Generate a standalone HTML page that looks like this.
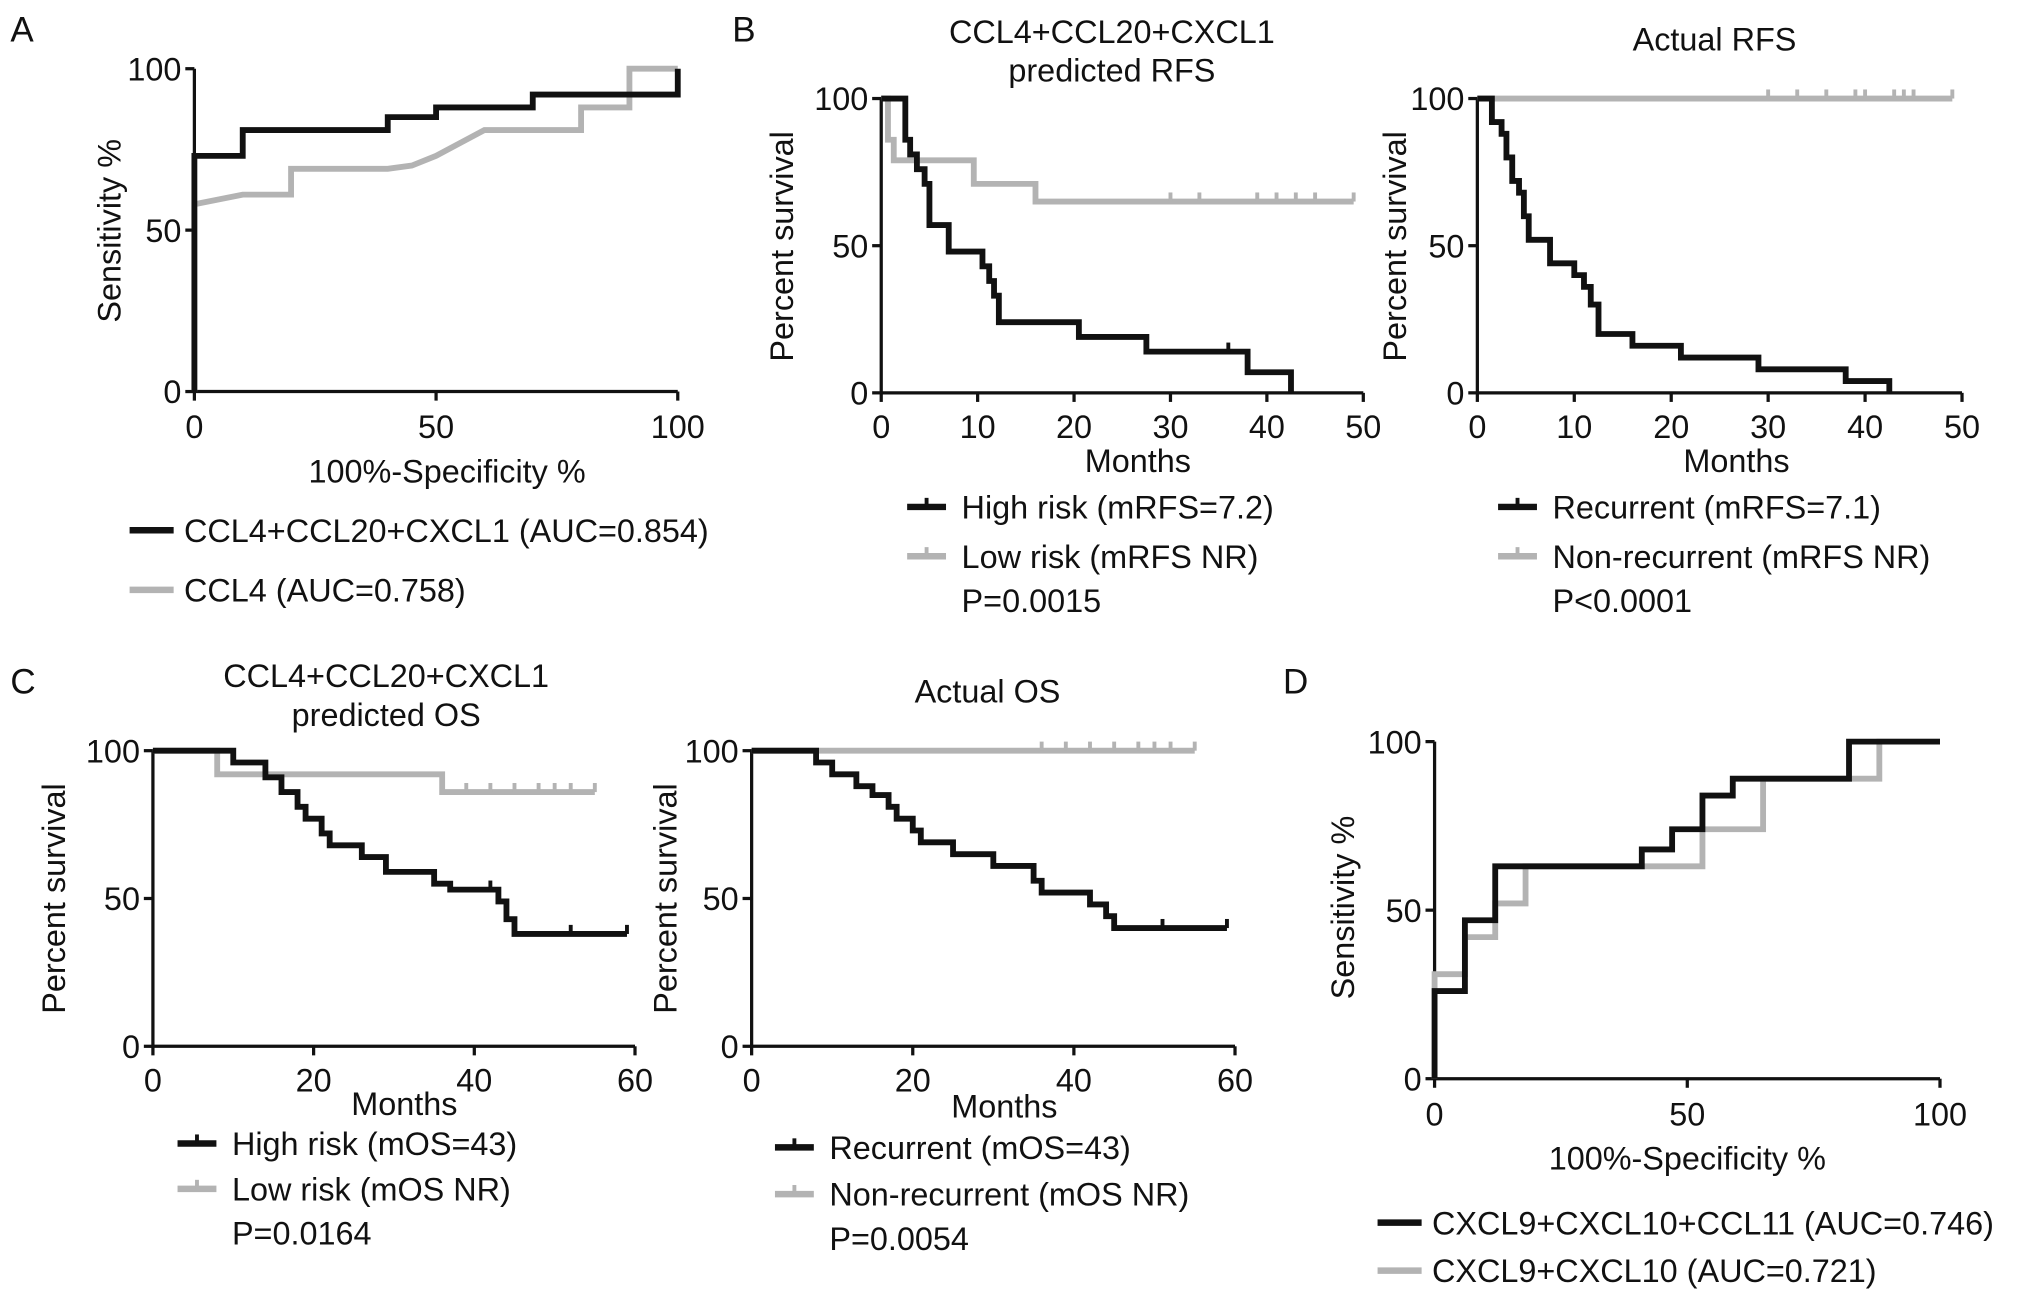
<!DOCTYPE html>
<html><head><meta charset="utf-8"><style>
html,body{margin:0;padding:0;background:#fff;}
svg{display:block;}
text{font-family:"Liberation Sans",sans-serif;fill:#111;}
</style></head><body>
<svg id="fig" width="2032" height="1303" viewBox="0 0 1568 1005" preserveAspectRatio="none" xmlns="http://www.w3.org/2000/svg">
<g font-size="27">
<text x="8" y="32">A</text>
<text x="565" y="32">B</text>
<text x="8" y="535">C</text>
<text x="990" y="535">D</text>
</g>
</svg>
<script>
// ---- Data ----
const aBlackX = [0,0,10,10,40,40,50,50,70,70,100,100];
const aBlackY = [0,73,73,81,81,85,85,88,88,92,92,100];
const aGrayX = [0,0,10,20,20,40,45,50,55,60,80,80,90,90,100];
const aGrayY = [0,58,61,61,69,69,70,73,77,81,81,88,88,100,100];
const b1BlackT = [2.5,3,3.7,4.5,5,7,10.5,11.2,11.7,12.2,20.5,27.5,38,42.5];
const b1BlackS = [86,81,76,71,57,48,43,38,33,24,19,14,7,0];
const b1BlackCens = [36];
const b1GrayT = [0.7,1.3,9.6,16];
const b1GrayS = [86,79,71,65];
const b1GrayCens = [30,33,39,41,43,45,49];
const b2BlackT = [1.5,2.5,3,3.6,4.3,4.8,5.3,7.5,10,11,11.7,12.5,16,21,29,38,42.5];
const b2BlackS = [92,88,80,72,68,60,52,44,40,36,30,20,16,12,8,4,0];
const b2GrayCens = [30,33,36,39,40,43,44,45,49];
const c1BlackT = [10,14,16,18,19,21,22,26,29,35,37,43,44,45];
const c1BlackS = [96,91,86,81,77,72,68,64,59,55,53,49,43,38];
const c1BlackCens = [42,52,59];
const c1GrayT = [8,36];
const c1GrayS = [92,86];
const c1GrayCens = [39,42,45,48,50,52,55];
const c2BlackT = [8,10,13,15,17,18,20,21,25,30,35,36,42,44,45];
const c2BlackS = [96,92,88,85,81,77,73,69,65,61,56,52,48,44,40];
const c2BlackCens = [35,51,59];
const c2GrayCens = [36,39,42,45,48,50,52,55];
const dBlackX = [0,0,6,6,12,12,41,41,47,47,53,53,59,59,82,82,100];
const dBlackY = [0,26,26,47,47,63,63,68,68,74,74,84,84,89,89,100,100];
const dGrayX = [0,0,6,6,12,12,18,18,53,53,65,65,82,82,88,88,100];
const dGrayY = [0,31,31,42,42,52,52,63,63,74,74,89,89,89,89,100,100];
const rocTicks = [0,50,100];
const rfsXTicks = [0,10,20,30,40,50];
const osXTicks = [0,20,40,60];
const survTicks = [0,50,100];

const FS = 25;
const svg = document.getElementById('fig');
const NS = 'http://www.w3.org/2000/svg';
const BLACK = '#111', GRAY = '#b3b3b3';
function el(tag, attrs, parent){const e=document.createElementNS(NS,tag);for(const k in attrs)e.setAttribute(k,attrs[k]);(parent||svg).appendChild(e);return e;}
function txt(x,y,s,size,anchor,parent,rot){const t=el('text',{x:x,y:y,'font-size':size,'text-anchor':anchor||'start'},parent);if(rot)t.setAttribute('transform','rotate(-90 '+x+' '+y+')');t.textContent=s;return t;}
function scale(d0,d1,r0,r1){return v=>r0+(v-d0)/(d1-d0)*(r1-r0);}

function axes(g, sx, sy, xt, yt, xmax, ymax, xlabOff){
  el('line',{x1:sx(0),y1:sy(0),x2:sx(xmax),y2:sy(0),stroke:BLACK,'stroke-width':2.5},g);
  el('line',{x1:sx(0),y1:sy(0),x2:sx(0),y2:sy(ymax),stroke:BLACK,'stroke-width':2.5},g);
  xt.forEach(v=>{el('line',{x1:sx(v),y1:sy(0),x2:sx(v),y2:sy(0)+7,stroke:BLACK,'stroke-width':2.5},g);
    const t=txt(sx(v),sy(0)+xlabOff,String(v),FS,'middle',g);
    
    });
  yt.forEach(v=>{el('line',{x1:sx(0)-7,y1:sy(v),x2:sx(0),y2:sy(v),stroke:BLACK,'stroke-width':2.5},g);
    const t=txt(sx(0)-10,sy(v)+9,String(v),FS,'end',g);
    
    });
}
function rocLine(g,sx,sy,X,Y,color,name){
  let d='';X.forEach((x,i)=>{d+=(i?'L':'M')+sx(x)+' '+sy(Y[i]);});
  const p=el('path',{d:d,fill:'none',stroke:color,'stroke-width':4.5,'stroke-linejoin':'miter'},g);
  
  
}
function kmLine(g,sx,sy,T,S,end,cens,color,name){
  let d='M'+sx(0)+' '+sy(100);let cur=100;
  T.forEach((t,i)=>{d+='L'+sx(t)+' '+sy(cur)+'L'+sx(t)+' '+sy(S[i]);cur=S[i];});
  d+='L'+sx(end)+' '+sy(cur);
  const p=el('path',{d:d,fill:'none',stroke:color,'stroke-width':4.5},g);
  
  
  cens.forEach(c=>{let s=100;T.forEach((t,i)=>{if(t<=c)s=S[i];});
    const m=el('line',{x1:sx(c),y1:sy(s),x2:sx(c),y2:sy(s)-7,stroke:color,'stroke-width':3},g);
    
    });
}
function legend(g,x,y,color,label,marker){
  const lg=el('g',{},g);
  
  
  el('line',{x1:x,y1:y,x2:x+(marker?30:34),y2:y,stroke:color,'stroke-width':5},lg);
  if(marker)el('line',{x1:x+15,y1:y,x2:x+15,y2:y-7,stroke:color,'stroke-width':3},lg);
  txt(x+42,y+9,label,FS,'start',lg);
}
function panel(name){const g=el('g',{});return g;}

(function(){const g=panel('panel-a-roc');
const sx=scale(0,100,150,523), sy=scale(0,100,302,53);
axes(g,sx,sy,rocTicks,rocTicks,100,100,36);
rocLine(g,sx,sy,aGrayX,aGrayY,GRAY,'roc-ccl4');
rocLine(g,sx,sy,aBlackX,aBlackY,BLACK,'roc-ccl4-ccl20-cxcl1');
txt(345,372,'100%-Specificity %',FS,'middle',g);
txt(93,178,'Sensitivity %',FS,'middle',g,true);
legend(g,100,409,BLACK,'CCL4+CCL20+CXCL1 (AUC=0.854)');
legend(g,100,455,GRAY,'CCL4 (AUC=0.758)');})();

(function(){const g=panel('panel-b-predicted-rfs');
const sx=scale(0,50,680,1052), sy=scale(0,100,303,76);
axes(g,sx,sy,rfsXTicks,survTicks,50,100,35);
kmLine(g,sx,sy,b1GrayT,b1GrayS,49,b1GrayCens,GRAY,'km-low-risk');
kmLine(g,sx,sy,b1BlackT,b1BlackS,42.5,b1BlackCens,BLACK,'km-high-risk');
txt(858,33,'CCL4+CCL20+CXCL1',FS,'middle',g);txt(858,63,'predicted RFS',FS,'middle',g);
txt(878,364,'Months',FS,'middle',g);txt(612,190,'Percent survival',FS,'middle',g,true);
legend(g,700,391,BLACK,'High risk (mRFS=7.2)',1);legend(g,700,429,GRAY,'Low risk (mRFS NR)',1);
txt(742,472,'P=0.0015',FS,'start',g);})();

(function(){const g=panel('panel-b-actual-rfs');
const sx=scale(0,50,1140,1514), sy=scale(0,100,303,76);
axes(g,sx,sy,rfsXTicks,survTicks,50,100,35);
kmLine(g,sx,sy,[],[],49,b2GrayCens,GRAY,'km-non-recurrent');
kmLine(g,sx,sy,b2BlackT,b2BlackS,42.5,[],BLACK,'km-recurrent');
txt(1323,39,'Actual RFS',FS,'middle',g);
txt(1340,364,'Months',FS,'middle',g);txt(1085,190,'Percent survival',FS,'middle',g,true);
legend(g,1156,391,BLACK,'Recurrent (mRFS=7.1)',1);legend(g,1156,429,GRAY,'Non-recurrent (mRFS NR)',1);
txt(1198,472,'P<0.0001',FS,'start',g);})();

(function(){const g=panel('panel-c-predicted-os');
const sx=scale(0,60,118,490), sy=scale(0,100,807,579);
axes(g,sx,sy,osXTicks,survTicks,60,100,35);
kmLine(g,sx,sy,c1GrayT,c1GrayS,55,c1GrayCens,GRAY,'km-low-risk-os');
kmLine(g,sx,sy,c1BlackT,c1BlackS,59,c1BlackCens,BLACK,'km-high-risk-os');
txt(298,530,'CCL4+CCL20+CXCL1',FS,'middle',g);txt(298,560,'predicted OS',FS,'middle',g);
txt(312,860,'Months',FS,'middle',g);txt(50,693,'Percent survival',FS,'middle',g,true);
legend(g,137,882,BLACK,'High risk (mOS=43)',1);legend(g,137,917,GRAY,'Low risk (mOS NR)',1);
txt(179,960,'P=0.0164',FS,'start',g);})();

(function(){const g=panel('panel-c-actual-os');
const sx=scale(0,60,580,953), sy=scale(0,100,807,579);
axes(g,sx,sy,osXTicks,survTicks,60,100,35);
kmLine(g,sx,sy,[],[],55,c2GrayCens,GRAY,'km-non-recurrent-os');
kmLine(g,sx,sy,c2BlackT,c2BlackS,59,c2BlackCens,BLACK,'km-recurrent-os');
txt(762,542,'Actual OS',FS,'middle',g);
txt(775,862,'Months',FS,'middle',g);txt(522,693,'Percent survival',FS,'middle',g,true);
legend(g,598,885,BLACK,'Recurrent (mOS=43)',1);legend(g,598,921,GRAY,'Non-recurrent (mOS NR)',1);
txt(640,964,'P=0.0054',FS,'start',g);})();

(function(){const g=panel('panel-d-roc');
const sx=scale(0,100,1107,1497), sy=scale(0,100,832,572);
axes(g,sx,sy,rocTicks,rocTicks,100,100,36);
rocLine(g,sx,sy,dGrayX,dGrayY,GRAY,'roc-cxcl9-cxcl10');
rocLine(g,sx,sy,dBlackX,dBlackY,BLACK,'roc-cxcl9-cxcl10-ccl11');
txt(1302,902,'100%-Specificity %',FS,'middle',g);
txt(1045,700,'Sensitivity %',FS,'middle',g,true);
legend(g,1063,943,BLACK,'CXCL9+CXCL10+CCL11 (AUC=0.746)');
legend(g,1063,980,GRAY,'CXCL9+CXCL10 (AUC=0.721)');})();
</script>
</body></html>
